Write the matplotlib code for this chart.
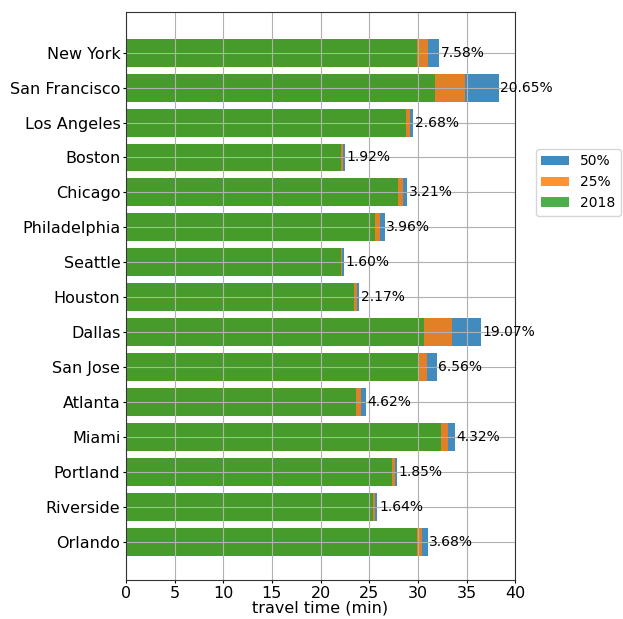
import numpy as np
import matplotlib
matplotlib.use('Agg')
import matplotlib.pyplot as plt

cities = ['New York', 'San Francisco', 'Los Angeles', 'Boston', 'Chicago',
          'Philadelphia', 'Seattle', 'Houston', 'Dallas', 'San Jose',
          'Atlanta', 'Miami', 'Portland', 'Riverside', 'Orlando']
t2018 = [29.9, 31.75, 28.76, 22.06, 28.0, 25.57, 22.06, 23.47, 30.62, 29.97,
         23.6, 32.37, 27.39, 25.43, 29.9]
t25 = [31.03, 34.85, 29.15, 22.27, 28.45, 26.08, 22.24, 23.72, 33.55, 30.95,
       24.15, 33.07, 27.64, 25.64, 30.45]
t50 = [32.17, 38.31, 29.53, 22.48, 28.9, 26.58, 22.41, 23.98, 36.46, 31.94,
       24.69, 33.77, 27.9, 25.85, 31.0]
pct = ['7.58%', '20.65%', '2.68%', '1.92%', '3.21%', '3.96%', '1.60%', '2.17%',
       '19.07%', '6.56%', '4.62%', '4.32%', '1.85%', '1.64%', '3.68%']

fig = plt.figure(figsize=(6.23, 6.19), dpi=100)
ax = fig.add_axes([0.202, 0.063, 0.625, 0.918])

y = np.arange(len(cities))
ax.barh(y, t50, height=0.8, color='tab:blue', alpha=0.85, label='50%')
ax.barh(y, t25, height=0.8, color='tab:orange', alpha=0.85, label='25%')
ax.barh(y, t2018, height=0.8, color='tab:green', alpha=0.85, label='2018')

# percentage labels at end of the bars
for i in range(len(cities)):
    ax.text(t50[i] + 0.15, y[i], pct[i], va='center', ha='left', fontsize=10)

ax.set_yticks(y)
ax.set_yticklabels(cities)
ax.set_ylim(15.09, -1.17)
ax.set_xlim(0, 40)
ax.set_xticks(np.arange(0, 41, 5))
ax.tick_params(axis='both', labelsize=11.5, length=2.5, pad=1.5)
ax.set_xlabel('travel time (min)', fontsize=11.5, labelpad=0)
ax.grid(True, color='#b0b0b0', linewidth=0.8)
for s in ax.spines.values():
    s.set_color('#333333')

ax.legend(loc='center left', bbox_to_anchor=(1.035, 0.70), fontsize=10)

plt.savefig('out.png', dpi=100)
